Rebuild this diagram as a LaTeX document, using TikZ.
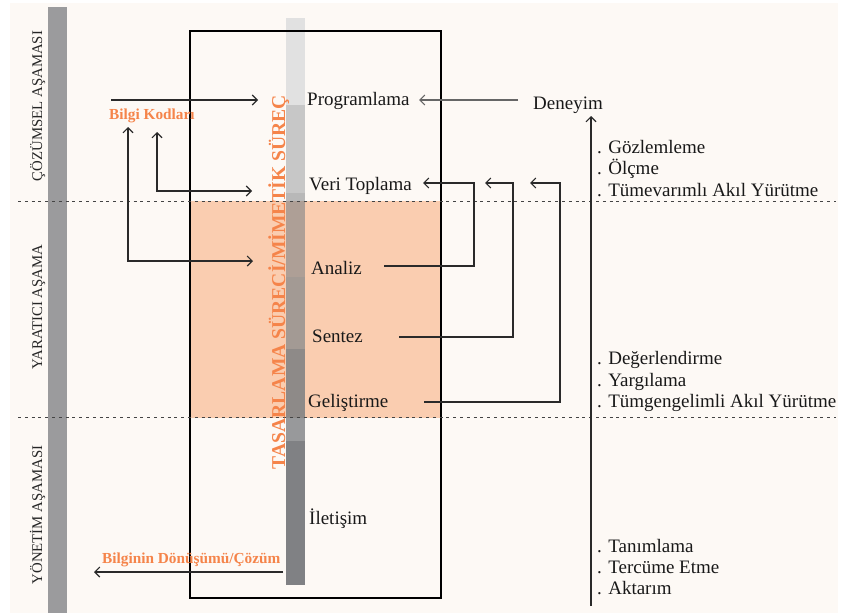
\documentclass[tikz,border=0pt]{standalone}
\usepackage{fontspec}
\setmainfont{Liberation Serif}
\usetikzlibrary{arrows.meta}
\definecolor{bg}{HTML}{FDF9F5}
\definecolor{bargray}{HTML}{9B9B9D}
\definecolor{orfill}{HTML}{FACDB0}
\definecolor{ortext}{HTML}{F5844A}
\definecolor{sA}{HTML}{E1E1E1}
\definecolor{sB}{HTML}{C7C7C7}
\definecolor{sC}{HTML}{B8B8B8}
\definecolor{sD}{HTML}{AE9F96}
\definecolor{sE}{HTML}{A39A94}
\definecolor{sF}{HTML}{8E8A88}
\definecolor{sG}{HTML}{98999B}
\definecolor{sH}{HTML}{808184}
\definecolor{linec}{HTML}{2A2A2A}
\definecolor{dashc}{HTML}{444444}
\tikzset{
  stagetxt/.style={anchor=base west, inner sep=0pt, font=\fontsize{19}{22}\selectfont, text=black!90},
  listtxt/.style={anchor=base west, inner sep=0pt, font=\fontsize{19}{22}\selectfont, text=black!90, align=left},
  phasetxt/.style={anchor=base, rotate=90, inner sep=0pt, font=\fontsize{14.8}{18}\selectfont, text=black!85},
  orlabel/.style={anchor=base west, inner sep=0pt, font=\bfseries\fontsize{15.3}{18}\selectfont, text=ortext},
  arr/.style={-{Straight Barb[length=5pt,width=10pt,line width=1.1pt]}, line width=1.1pt, draw=linec},
  darr/.style={{Straight Barb[length=5pt,width=10pt,line width=1.1pt]}-{Straight Barb[length=5pt,width=10pt,line width=1.1pt]}, line width=1.1pt, draw=linec},
  dashline/.style={draw=dashc, line width=1pt, dash pattern=on 3pt off 3.8pt}
}
\begin{document}
\begin{tikzpicture}[x=1pt,y=-1pt]
\useasboundingbox (0,0) rectangle (851,613);
\fill[white] (0,0) rectangle (851,613);
\fill[bg] (10,3) rectangle (838,613);
% left bar
\fill[bargray] (48,7) rectangle (67,613);
% orange band
\fill[orfill] (190,201) rectangle (441,418);
% strip
\fill[sA] (286,18) rectangle (305,105);
\fill[sB] (286,105) rectangle (305,193);
\fill[sC] (286,193) rectangle (305,201);
\fill[sD] (286,201) rectangle (305,277);
\fill[sE] (286,277) rectangle (305,349);
\fill[sF] (286,349) rectangle (305,418);
\fill[sG] (286,418) rectangle (305,441);
\fill[sH] (286,441) rectangle (305,585);
% main box
\draw[line width=1.4pt, draw=black] (190,31) rectangle (441,598);
% dashed separators
\draw[dashline] (18,201) -- (836,201);
\draw[dashline] (18,417) -- (836,417);
% phase labels
\node[phasetxt] (p1) at (42,106) {ÇÖZÜMSEL AŞAMASI};
\node[phasetxt] (p2) at (42,307) {YARATICI AŞAMA};
\node[phasetxt] (p3) at (42,515) {YÖNETİM AŞAMASI};
% vertical orange title
\node[anchor=base, rotate=90, inner sep=0pt, font=\bfseries\fontsize{19.6}{24}\selectfont, text=ortext] (title) at (285,282) {TASARLAMA SÜRECİ/MİMETİK SÜREÇ};
% stages
\node[stagetxt] (prog) at (307,105) {Programlama};
\node[stagetxt] (veri) at (309,190) {Veri Toplama};
\node[stagetxt] (anal) at (311,274) {Analiz};
\node[stagetxt] (sent) at (312,342) {Sentez};
\node[stagetxt] (gel) at (308,407) {Geliştirme};
\node[stagetxt] (ilet) at (309,524) {İletişim};
\node[stagetxt] (den) at (533,109) {Deneyim};
% orange labels
\node[orlabel] (bk) at (109,119) {Bilgi Kodları};
\node[orlabel] (bd) at (102,563) {Bilginin Dönüşümü/Çözüm};
% lists
\node[listtxt] (l1) at (597,153) {. Gözlemleme};
\node[listtxt] (l2) at (597,174.5) {. Ölçme};
\node[listtxt] (l3) at (597,196) {. Tümevarımlı Akıl Yürütme};
\node[listtxt] (l4) at (597,364) {. Değerlendirme};
\node[listtxt] (l5) at (597,386) {. Yargılama};
\node[listtxt] (l6) at (597,407) {. Tümgengelimli Akıl Yürütme};
\node[listtxt] (l7) at (597,552) {. Tanımlama};
\node[listtxt] (l8) at (597,573) {. Tercüme Etme};
\node[listtxt] (l9) at (597,594) {. Aktarım};
% connector coordinates
\coordinate (denL) at (518,100);
\coordinate (progR) at (419,100);
\coordinate (inS) at (111,100);
\coordinate (progL) at (258,100);
\coordinate (bkA) at (128,127);
\coordinate (analL) at (253,261);
\coordinate (bkB) at (157,132);
\coordinate (veriL) at (252,191);
\coordinate (analR) at (384,266);
\coordinate (veriR1) at (423,183);
\coordinate (sentR) at (399,337);
\coordinate (veriR2) at (485,183);
\coordinate (gelR) at (424,402);
\coordinate (veriR3) at (530,183);
\coordinate (upB) at (591,606);
\coordinate (upT) at (591,116);
\coordinate (outS) at (283,572);
\coordinate (outE) at (94,572);
% connectors
\draw[arr, draw=black!60] (denL) -- (progR);
\draw[arr] (inS) -- (progL);
\draw[darr] (analL) -| (bkA);
\draw[darr] (veriL) -| (bkB);
\draw[arr] (analR) -| (474,183) -- (veriR1);
\draw[arr] (sentR) -| (513,183) -- (veriR2);
\draw[arr] (gelR) -| (560,183) -- (veriR3);
\draw[arr] (upB) -- (upT);
\draw[arr] (outS) -- (outE);
\end{tikzpicture}
\end{document}
